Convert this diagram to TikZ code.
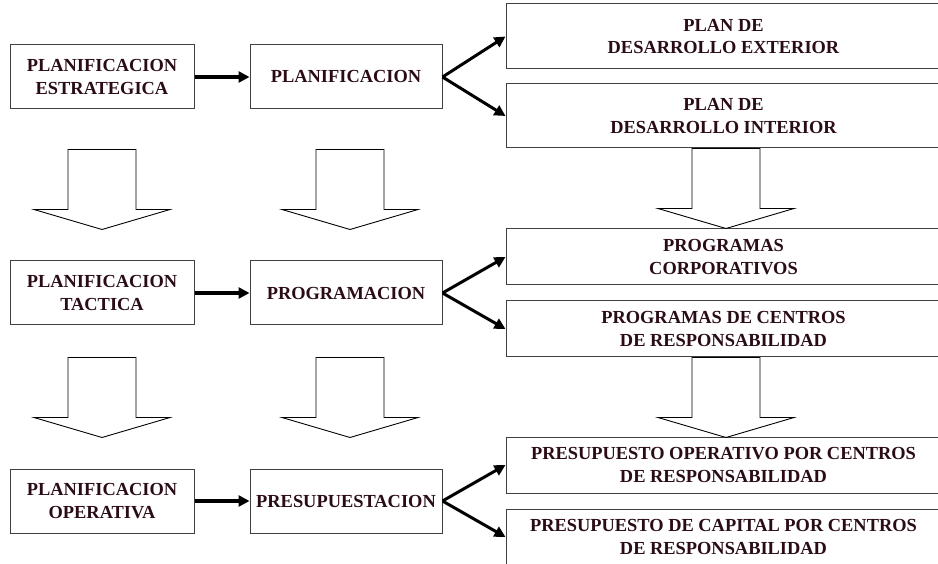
\documentclass[tikz,border=0pt]{standalone}
\usepackage{fontspec}
\setmainfont{Liberation Serif}
\usetikzlibrary{arrows.meta,positioning}
\definecolor{ink}{RGB}{42,12,22}
\definecolor{frame}{RGB}{64,64,64}

\begin{document}
\begin{tikzpicture}[x=1pt,y=-1pt,->,>={Triangle[length=11pt,width=11pt]},line width=4pt,
        block/.style={draw=frame,line width=1pt,text=ink,align=center,inner sep=0pt,
            font=\fontsize{18.4}{23}\selectfont\bfseries},
        smallbox/.style={block,minimum width=184pt,minimum height=64pt},
        midbox/.style={block,minimum width=192pt,minimum height=64pt},
        widebox/.style={block,minimum width=435pt,minimum height=56pt,
            font=\fontsize{18.4}{22.5}\selectfont\bfseries},
        hollow/.style={-,draw=black,line width=0.9pt,fill=white}]
        \clip (0,0) rectangle (938,564);

        \node[smallbox] (estrat) at (102,77)
            {PLANIFICACION\\ESTRATEGICA};

        \node[midbox] (planif) [right of=estrat, node distance=244pt]
            {PLANIFICACION};

        \node[widebox, minimum height=65pt] (exterior) [right of=planif, node distance=377.5pt, yshift=40.5pt]
            {PLAN DE\\DESARROLLO EXTERIOR};

        \node[widebox, minimum height=64pt] (interior) [right of=planif, node distance=377.5pt, yshift=-39pt]
            {PLAN DE\\DESARROLLO INTERIOR};

        \node[smallbox] (tactica) [below of=estrat, node distance=216pt]
            {PLANIFICACION\\TACTICA};

        \node[midbox] (progra) [right of=tactica, node distance=244pt]
            {PROGRAMACION};

        \node[widebox] (corp) [right of=progra, node distance=377.5pt, yshift=36pt]
            {PROGRAMAS\\CORPORATIVOS};

        \node[widebox] (centros) [right of=progra, node distance=377.5pt, yshift=-36pt]
            {PROGRAMAS DE CENTROS\\DE RESPONSABILIDAD};

        \node[smallbox] (operat) [below of=tactica, node distance=208pt]
            {PLANIFICACION\\OPERATIVA};

        \node[midbox] (presup) [right of=operat, node distance=244pt]
            {PRESUPUESTACION};

        \node[widebox] (presop) [right of=presup, node distance=377.5pt, yshift=36pt]
            {PRESUPUESTO OPERATIVO POR CENTROS\\DE RESPONSABILIDAD};

        \node[widebox] (presc) [right of=presup, node distance=377.5pt, yshift=-36pt]
            {PRESUPUESTO DE CAPITAL POR CENTROS\\DE RESPONSABILIDAD};

        \path
        (estrat)       edge                (planif)
        (tactica)      edge                (progra)
        (operat)       edge                (presup)
        ;

        \path[line width=3pt]
        (planif.east)  edge                (exterior.west)
                       edge                (interior.west)
        (progra.east)  edge                (corp.west)
                       edge                (centros.west)
        (presup.east)  edge                (presop.west)
                       edge                (presc.west)
        ;

        % hollow block arrows
        \foreach \n/\dx/\dy in {estrat/0/40, planif/4/40, interior/2.5/0, tactica/0/32, progra/4/32, centros/2.5/0}
            \draw[hollow] ([xshift=\dx pt-34pt,yshift=-\dy pt]\n.south) -- ++(0,60) -- ++(-34,0)
                -- ++(68,20) -- ++(68,-20) -- ++(-34,0) -- ++(0,-60) -- cycle;
    \end{tikzpicture}
\end{document}
